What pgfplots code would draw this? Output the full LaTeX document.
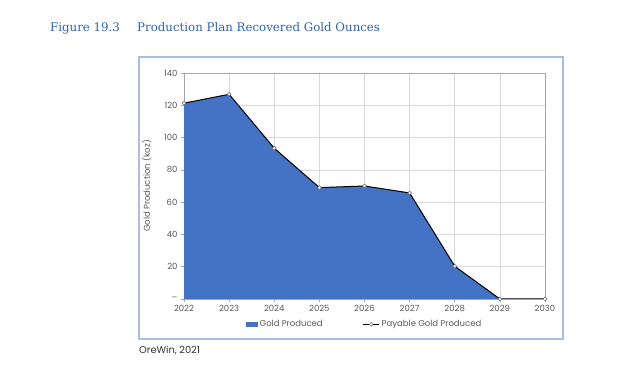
\documentclass[border=0pt]{standalone}
\usepackage{fontspec}
\setmainfont{Poppins}
\newfontfamily\titlefont{DejaVu Serif}
\usepackage{pgfplots}
\pgfplotsset{compat=1.18}
\definecolor{titleblue}{HTML}{2E64B0}
\definecolor{boxblue}{HTML}{A9C0DC}
\definecolor{areablue}{HTML}{4472C4}
\definecolor{tickgray}{HTML}{595959}
\definecolor{gridgray}{HTML}{D9D9D9}
\begin{document}
\begin{tikzpicture}[x=1pt,y=1pt]
\useasboundingbox (0,0) rectangle (640,366);
\fill[white] (0,0) rectangle (640,366);
\node[anchor=base west,text=titleblue,font=\titlefont\fontsize{11.8}{14}\selectfont,inner sep=0] at (50,334) {Figure 19.3};
\node[anchor=base west,text=titleblue,font=\titlefont\fontsize{11.8}{14}\selectfont,inner sep=0] at (137,334) {Production Plan Recovered Gold Ounces};
\draw[boxblue,line width=1.2pt] (139,27) rectangle (563,309);
\node[anchor=base west,text=black!80,font=\fontsize{9.8}{11}\selectfont,inner sep=0] at (139,12) {OreWin, 2021};
\begin{axis}[
  at={(184pt,67pt)}, anchor=south west,
  scale only axis, width=361pt, height=226pt,
  xmin=2022, xmax=2030, ymin=0, ymax=140,
  xtick={2022,...,2030}, ytick={0,20,...,140},
  yticklabels={--,20,40,60,80,100,120,140},
  x tick label style={/pgf/number format/1000 sep={}},
  /pgf/number format/assume math mode=true,
  tick label style={font=\fontsize{8.5}{10}\selectfont, text=tickgray},
  grid=major, major grid style={gridgray, line width=0.5pt},
  axis line style={draw=gray!70, line width=0.6pt},
  tick style={gray!70, line width=0.6pt},
  tick align=outside, major tick length=3pt,
  xtick pos=bottom, ytick pos=left,
  ylabel={Gold Production (koz)},
  ylabel style={font=\fontsize{8.5}{10}\selectfont, text=tickgray, at={(-29pt,0.5)}, anchor=south},
  legend columns=2,
  legend style={at={(0.5,-0.085)}, anchor=north, draw=none, fill=none,
    font=\fontsize{8.5}{10}\selectfont, text=tickgray, inner sep=0pt,
    /tikz/every odd column/.append style={column sep=0pt},
    /tikz/every even column/.append style={column sep=38pt}},
  legend cell align=left,
]
\addplot[draw=none, fill=areablue,
  legend image code/.code={\fill[areablue] (0pt,-2.5pt) rectangle (12pt,2.5pt);}] coordinates {
 (2022,121.3) (2023,126.8) (2024,93.4) (2025,69) (2026,70) (2027,65.7) (2028,20.3) (2029,0) (2030,0)} \closedcycle;
\addlegendentry{Gold Produced}
\addplot[black, line width=1pt, mark=*, mark size=1.9pt, mark options={fill=white, draw=gray!80!black, line width=0.5pt},
  legend image code/.code={\draw[black,line width=1pt] (0pt,0pt) -- (16pt,0pt);
     \draw[fill=white, draw=gray!80!black, line width=0.5pt] (8pt,0pt) circle (1.9pt);}] coordinates {
 (2022,121.3) (2023,126.8) (2024,93.4) (2025,69) (2026,70) (2027,65.7) (2028,20.3) (2029,0) (2030,0)};
\addlegendentry{Payable Gold Produced}
\end{axis}
\end{tikzpicture}
\end{document}
